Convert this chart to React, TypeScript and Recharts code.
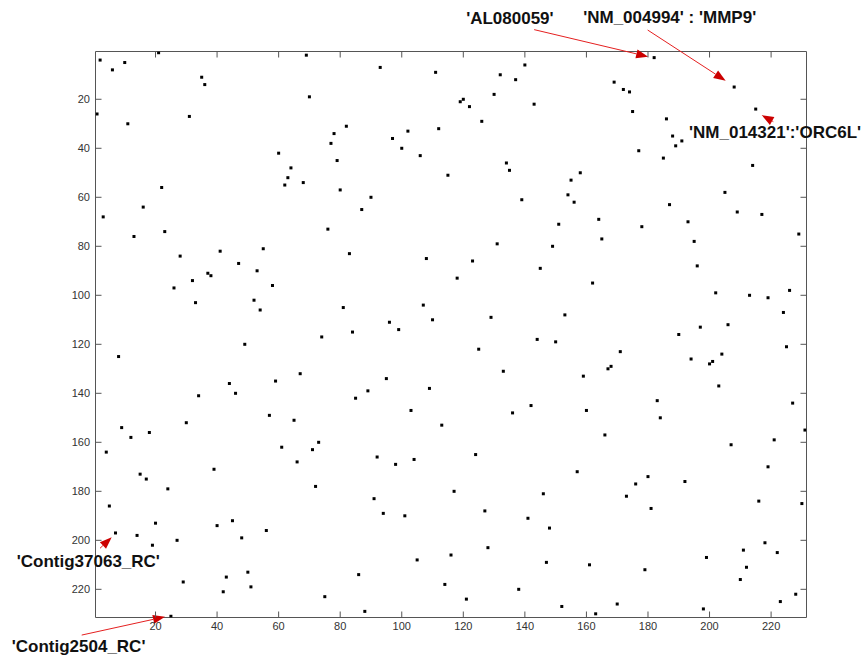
import { ScatterChart, Scatter, XAxis, YAxis, ReferenceDot } from "recharts";

const xTicks = [20, 40, 60, 80, 100, 120, 140, 160, 180, 200, 220];
const yTicks = [20, 40, 60, 80, 100, 120, 140, 160, 180, 200, 220];

// non-zero entries of the matrix, [column, row]
const upperBand: [number, number][] = [
  [2, 4], [6, 8], [10, 5], [21, 1], [1, 26], [11, 30], [31, 27], [35, 11], [36, 14], [69, 2],
  [70, 19], [60, 42], [64, 48], [63, 52], [62, 55], [68, 54], [22, 56], [16, 64], [3, 68],
  [93, 7], [111, 9], [140, 6], [132, 10], [137, 12], [130, 18], [119, 21], [120, 20], [122, 23],
  [143, 22], [126, 29], [82, 31], [78, 34], [77, 38], [79, 45], [102, 33], [97, 36], [100, 40],
  [106, 43], [112, 32], [115, 51], [134, 46], [135, 49], [139, 61], [80, 57], [90, 60], [87, 65],
  [76, 73], [151, 71], [155, 53], [154, 59], [156, 62], [158, 50],
  [182, 3], [169, 13], [172, 16], [174, 17], [175, 25], [186, 28], [188, 35], [191, 37], [189, 39],
  [177, 41], [185, 44], [208, 15], [215, 24], [214, 47], [205, 58], [187, 63], [209, 66], [217, 67],
  [164, 69], [178, 72], [193, 70],
];

const middleBand: [number, number][] = [
  [23, 74], [13, 76], [28, 84], [41, 82], [55, 81], [47, 87], [53, 90], [37, 91], [38, 92], [32, 94],
  [58, 96], [26, 97], [52, 102], [33, 103], [54, 106], [49, 120], [8, 125], [67, 132], [59, 135],
  [44, 136], [46, 140], [34, 141], [57, 149],
  [83, 83], [108, 85], [123, 86], [131, 79], [149, 80], [145, 89], [118, 93], [81, 105], [107, 104],
  [110, 110], [96, 111], [99, 114], [84, 115], [74, 117], [129, 109], [153, 108], [125, 122],
  [144, 118], [150, 119], [133, 131], [95, 134], [89, 139], [85, 142], [109, 138], [103, 147],
  [142, 145], [136, 148],
  [165, 77], [195, 78], [229, 75], [196, 88], [162, 95], [202, 99], [213, 100], [219, 101], [226, 98],
  [224, 107], [197, 113], [206, 112], [190, 116], [225, 121], [171, 123], [167, 130], [168, 129],
  [159, 133], [194, 126], [200, 128], [201, 127], [204, 124], [203, 137], [183, 143], [184, 150],
  [160, 147], [227, 144],
];

const lowerBand: [number, number][] = [
  [30, 152], [65, 151], [9, 154], [12, 158], [18, 156], [4, 164], [61, 162], [73, 160], [71, 163],
  [66, 168], [39, 171], [15, 173], [17, 175], [24, 179], [72, 178], [5, 186], [20, 193], [40, 194],
  [45, 192], [56, 196], [7, 197], [14, 198], [19, 202], [27, 200], [48, 199], [50, 213], [43, 215],
  [51, 219], [29, 217], [42, 221], [75, 223], [25, 231],
  [113, 153], [92, 166], [98, 169], [104, 167], [124, 165], [157, 172], [117, 180], [91, 183],
  [94, 189], [101, 190], [127, 188], [146, 181], [141, 191], [148, 195], [128, 203], [116, 206],
  [105, 208], [147, 209], [86, 214], [114, 218], [138, 220], [121, 224], [152, 227], [88, 229],
  [166, 157], [207, 161], [221, 159], [231, 155], [180, 174], [176, 177], [192, 176], [173, 182],
  [181, 187], [219, 170], [216, 184], [230, 185], [218, 201], [211, 204], [222, 205], [199, 207],
  [212, 211], [210, 216], [161, 210], [179, 212], [228, 222], [223, 225], [170, 226], [198, 228],
  [163, 230],
];

const geneLabels = ["'AL080059'", "'NM_004994' : 'MMP9'", "'NM_014321':'ORC6L'", "'Contig37063_RC'", "'Contig2504_RC'"];
const geneCols = [182, 208, 215, 7, 25];
const geneRows = [3, 15, 24, 197, 231];

// callout geometry, relative to the marked point: arrow tip, arrow tail, text start
const callouts = [
  { tip: [-6, -1], tail: [-120, -28], text: [-188, -34] },
  { tip: [-8.5, -6.3], tail: [-86.5, -57], text: [-151, -64] },
  { tip: [6, 6], tail: [17.6, 12.6], text: [-66.7, 29] },
  { tip: [-3.8, 4.3], tail: [-15.5, 15.3], text: [-98.8, 33.7] },
  { tip: [-5.9, 0.5], tail: [-89.2, 18.8], text: [-159.2, 35.5] },
];

const points = [...upperBand, ...middleBand, ...lowerBand].map(([x, y]) => ({ x, y }));

const font = "'Liberation Sans', Arial, sans-serif";
const axisColor = "#555";
const TICK = 6;

const Dot = (props: any) => {
  const { cx, cy } = props;
  if (cx == null || cy == null) return null;
  return <rect x={cx - 1.5} y={cy - 1.5} width={3} height={3} fill="#000" />;
};

// inward tick marks, MATLAB style
const InTick = ({ x, y, payload, side }: any) => {
  let line;
  let label = null;
  if (side === "bottom") {
    line = <line x1={x} y1={y} x2={x} y2={y - TICK} stroke={axisColor} />;
    label = (
      <text x={x} y={y + 4.5} dy="0.71em" textAnchor="middle" fontSize={11} fill="#333" fontFamily={font}>
        {payload.value}
      </text>
    );
  } else if (side === "left") {
    line = <line x1={x} y1={y} x2={x + TICK} y2={y} stroke={axisColor} />;
    label = (
      <text x={x - 5.5} y={y} dy="0.355em" textAnchor="end" fontSize={11} fill="#333" fontFamily={font}>
        {payload.value}
      </text>
    );
  } else if (side === "top") {
    line = <line x1={x} y1={y} x2={x} y2={y + TICK} stroke={axisColor} />;
  } else {
    line = <line x1={x} y1={y} x2={x - TICK} y2={y} stroke={axisColor} />;
  }
  return (
    <g>
      {line}
      {label}
    </g>
  );
};

const Callout = ({ cx, cy, label, c }: any) => {
  if (cx == null || cy == null) return null;
  const tx = cx + c.tip[0];
  const ty = cy + c.tip[1];
  const sx = cx + c.tail[0];
  const sy = cy + c.tail[1];
  const dx = tx - sx;
  const dy = ty - sy;
  const len = Math.sqrt(dx * dx + dy * dy) || 1;
  const ux = dx / len;
  const uy = dy / len;
  const hl = 12;
  const hw = 4.5;
  const bx = tx - ux * hl;
  const by = ty - uy * hl;
  const head = `${tx},${ty} ${bx - uy * hw},${by + ux * hw} ${bx + uy * hw},${by - ux * hw}`;
  return (
    <g>
      <line x1={sx} y1={sy} x2={bx} y2={by} stroke="#e52020" strokeWidth={1} />
      <polygon points={head} fill="#cc0000" />
      <text x={cx + c.text[0]} y={cy + c.text[1]} fontSize={17} fontWeight="bold" fill="#111" fontFamily={font}>
        {label}
      </text>
    </g>
  );
};

export default function App() {
  return (
    <div style={{ position: "absolute", left: 0, top: 0, background: "#fff" }}>
      <ScatterChart width={865} height={658} margin={{ top: 50.5, right: 57.5, bottom: 10.5, left: 35.5 }}>
        <XAxis
          type="number"
          dataKey="x"
          xAxisId="bottom"
          domain={[0.5, 231.5]}
          ticks={xTicks}
          allowDataOverflow
          height={30}
          tickSize={0}
          tickMargin={0}
          tickLine={false}
          stroke={axisColor}
          tick={(p: any) => <InTick {...p} side="bottom" />}
        />
        <XAxis
          type="number"
          dataKey="x"
          xAxisId="top"
          orientation="top"
          domain={[0.5, 231.5]}
          ticks={xTicks}
          allowDataOverflow
          height={1}
          tickSize={0}
          tickMargin={0}
          tickLine={false}
          stroke={axisColor}
          tick={(p: any) => <InTick {...p} side="top" />}
        />
        <YAxis
          type="number"
          dataKey="y"
          yAxisId="left"
          domain={[0.5, 231.5]}
          reversed
          ticks={yTicks}
          allowDataOverflow
          width={60}
          tickSize={0}
          tickMargin={0}
          tickLine={false}
          stroke={axisColor}
          tick={(p: any) => <InTick {...p} side="left" />}
        />
        <YAxis
          type="number"
          dataKey="y"
          yAxisId="right"
          orientation="right"
          domain={[0.5, 231.5]}
          reversed
          ticks={yTicks}
          allowDataOverflow
          width={1}
          tickSize={0}
          tickMargin={0}
          tickLine={false}
          stroke={axisColor}
          tick={(p: any) => <InTick {...p} side="right" />}
        />
        <Scatter data={points} xAxisId="bottom" yAxisId="left" shape={<Dot />} isAnimationActive={false} />
        {geneLabels.map((label, i) => (
          <ReferenceDot
            key={label}
            x={geneCols[i]}
            y={geneRows[i]}
            xAxisId="bottom"
            yAxisId="left"
            ifOverflow="visible"
            shape={(p: any) => <Callout {...p} label={label} c={callouts[i]} />}
          />
        ))}
      </ScatterChart>
    </div>
  );
}
